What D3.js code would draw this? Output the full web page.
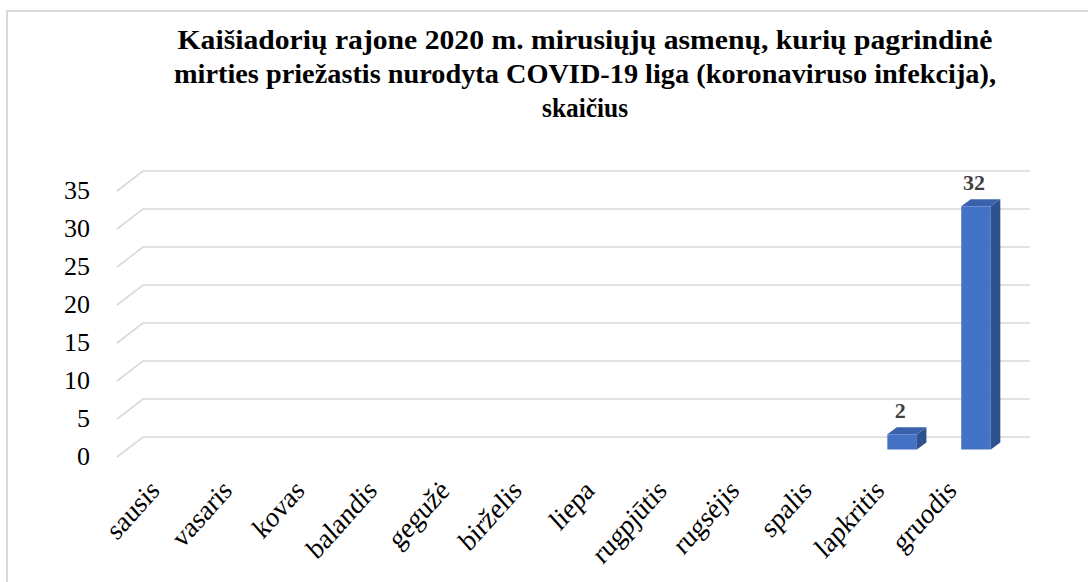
<!DOCTYPE html>
<html>
<head>
<meta charset="utf-8">
<script src="https://cdn.jsdelivr.net/npm/d3@7"></script>
<style>
html,body{margin:0;padding:0;background:#fff;}
svg{display:block;}
</style>
</head>
<body>
<svg id="chart" width="1088" height="582"></svg>
<script>
const titleLines = [
  "Kaišiadorių  rajone 2020 m. mirusiųjų  asmenų, kurių pagrindinė",
  "mirties priežastis nurodyta COVID-19 liga (koronaviruso infekcija),",
  "skaičius"
];
const months = ["sausis","vasaris","kovas","balandis","gegužė","birželis","liepa","rugpjūtis","rugsėjis","spalis","lapkritis","gruodis"];
const deaths = [0,0,0,0,0,0,0,0,0,0,2,32];
const yTicks = [0,5,10,15,20,25,30,35];

const svg = d3.select("#chart");
const serif = "'Liberation Serif','Times New Roman',serif";

// outer border
svg.append("rect").attr("x",7).attr("y",11).attr("width",1300).attr("height",800)
  .attr("fill","none").attr("stroke","#d9d9d9").attr("stroke-width",2);

// title
const titleW = [815, 822, 86];
svg.append("g").selectAll("text").data(titleLines).join("text")
  .attr("transform",(d,i)=>`translate(585,${49+i*34}) scale(1,1.12)`)
  .attr("text-anchor","middle")
  .attr("font-family",serif).attr("font-weight","bold").attr("font-size",25)
  .attr("fill","#000")
  .attr("textLength",(d,i)=>titleW[i]).attr("lengthAdjust","spacingAndGlyphs")
  .text(d=>d);

// 3D geometry
const depthX = 26, depthY = -20;
const y = d3.scaleLinear().domain([0,35]).range([457,191]);
const x = d3.scaleBand().domain(months).range([117,1004]).paddingInner(0.6).paddingOuter(0.3);
const barOffX = 9, barOffY = -7.5, barDX = 9.5, barDY = -7;
const xRight = 1030;

// gridlines
svg.append("g").selectAll("path").data(yTicks).join("path")
  .attr("d",v=>`M117,${y(v)}L${117+depthX},${y(v)+depthY}L${xRight},${y(v)+depthY}`)
  .attr("fill","none").attr("stroke","#d9d9d9").attr("stroke-width",1.6);

// y tick labels
svg.append("g").selectAll("text").data(yTicks).join("text")
  .attr("x",90).attr("y",v=>y(v)-1)
  .attr("text-anchor","end").attr("dominant-baseline","central")
  .attr("font-family",serif).attr("font-size",26).attr("fill","#000")
  .text(v=>v);

// bars
const bars = svg.append("g").selectAll("g").data(months.map((m,i)=>({m,v:deaths[i]})).filter(d=>d.v>0)).join("g");
bars.each(function(d){
  const g = d3.select(this);
  const x0 = x(d.m)+barOffX, x1 = x0 + x.bandwidth();
  const yb = y(0)+barOffY, yt = y(d.v)+barOffY;
  g.append("path").attr("d",`M${x1},${yb}L${x1+barDX},${yb+barDY}L${x1+barDX},${yt+barDY}L${x1},${yt}Z`).attr("fill","#2F528F");
  g.append("path").attr("d",`M${x0},${yt}L${x0+barDX},${yt+barDY}L${x1+barDX},${yt+barDY}L${x1},${yt}Z`).attr("fill","#3A62AC");
  g.append("rect").attr("x",x0).attr("y",yt).attr("width",x1-x0).attr("height",yb-yt).attr("fill","#4472C4");
  g.append("text").attr("x",(x0+x1)/2-2).attr("y",yt+barDY-9)
    .attr("text-anchor","middle").attr("font-family",serif).attr("font-weight","bold")
    .attr("font-size",22).attr("fill","#404040").text(d.v);
});

// category labels
const lx = d3.scalePoint().domain(months).range([161,958]);
svg.append("g").selectAll("text").data(months).join("text")
  .attr("transform",m=>`translate(${lx(m)},492) scale(1,1.12) rotate(-45)`)
  .attr("text-anchor","end")
  .attr("font-family",serif).attr("font-size",26).attr("fill","#000")
  .text(m=>m);
</script>
</body>
</html>
